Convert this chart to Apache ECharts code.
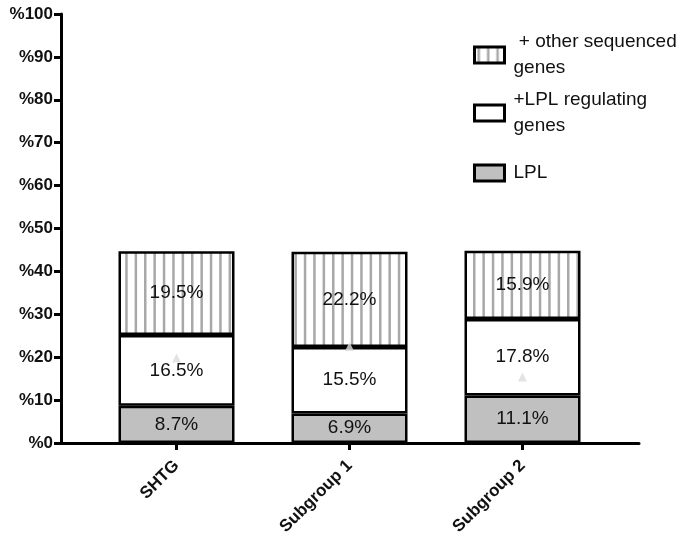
<!DOCTYPE html>
<html>
<head>
<meta charset="utf-8">
<script src="https://cdn.jsdelivr.net/npm/echarts@6/dist/echarts.min.js"></script>
<style>
  html, body { margin: 0; padding: 0; background: #fff; }
  #chart { width: 689px; height: 544px; }
</style>
</head>
<body>
<div id="chart"></div>
<script>
const categories = ['SHTG', 'Subgroup 1', 'Subgroup 2'];
const lpl = [8.7, 6.9, 11.1];
const regulating = [16.5, 15.5, 17.8];
const otherGenes = [19.5, 22.2, 15.9];
// faint triangle markers seen inside the white segments
const markers = [19.8, 22.5, 15.4];
const yTicks = [0, 10, 20, 30, 40, 50, 60, 70, 80, 90, 100];

const names = {
    other: '+ other sequenced genes',
    reg: '+LPL regulating genes',
    lpl: 'LPL',
};

// vertical stripes for the top segment
function stripes() {
    const c = document.createElement('canvas');
    c.width = 47;
    c.height = 10;
    const ctx = c.getContext('2d');
    ctx.fillStyle = '#fff';
    ctx.fillRect(0, 0, c.width, c.height);
    ctx.fillStyle = '#a8a8a8';
    for (let i = 0; i < 5; i++) {
        ctx.fillRect(i * 9.4 + 3, 0, 2.5, c.height);
    }
    return { image: c, repeat: 'repeat' };
}
const stripeFill = stripes();

const chart = echarts.init(document.getElementById('chart'));

const barLabel = {
    show: true,
    position: 'inside',
    formatter: '{c}%',
    fontFamily: 'Liberation Sans',
    fontSize: 19,
    color: '#111',
};
const border = { borderColor: '#000', borderWidth: 2.5 };

function legendFor(name, top, twoLines) {
    return {
        data: [name],
        left: 473,
        top: top,
        padding: 0,
        icon: 'rect',
        itemWidth: 30,
        itemHeight: 16,
        itemGap: 0,
        selectedMode: false,
        itemStyle: { borderColor: '#000', borderWidth: 3 },
        formatter: (n) => {
            if (n === names.other) return ' + other sequenced\ngenes';
            if (n === names.reg) return '+LPL regulating\ngenes';
            return n;
        },
        textStyle: {
            fontFamily: 'Liberation Sans',
            fontSize: 19,
            lineHeight: 26,
            color: '#111',
            padding: twoLines ? [26, 0, 0, 4] : [0, 0, 0, 4],
        },
    };
}

const option = {
    animation: false,
    backgroundColor: '#fff',
    grid: [
        { left: 61, right: 50, top: 14, bottom: 101 },
        { left: 90, right: 80, top: 14, bottom: 101 },
    ],
    legend: [
        legendFor(names.other, 16, true),
        legendFor(names.reg, 74, true),
        legendFor(names.lpl, 160, false),
    ],
    xAxis: [
        {
            type: 'value',
            gridIndex: 0,
            min: 0,
            max: 1,
            axisLine: { show: true, lineStyle: { color: '#000', width: 3 } },
            axisTick: { show: false },
            axisLabel: { show: false },
            splitLine: { show: false },
        },
        {
            type: 'category',
            gridIndex: 1,
            data: categories,
            axisLine: { show: false },
            axisTick: { show: true, alignWithLabel: true, length: 7, lineStyle: { color: '#000', width: 3 } },
            axisLabel: {
                rotate: 45,
                margin: 20,
                fontFamily: 'Liberation Sans',
                fontWeight: 'bold',
                fontSize: 17,
                color: '#111',
            },
        },
    ],
    yAxis: [
        {
            type: 'value',
            gridIndex: 0,
            min: 0,
            max: 100,
            interval: 10,
            axisLine: { show: true, lineStyle: { color: '#000', width: 3 } },
            axisTick: { show: true, length: 7, lineStyle: { color: '#000', width: 3 } },
            axisLabel: {
                formatter: (v) => (yTicks.includes(v) ? '%' + v : ''),
                margin: 8,
                fontFamily: 'Liberation Sans',
                fontWeight: 'bold',
                fontSize: 17,
                color: '#111',
            },
            splitLine: { show: false },
        },
        {
            type: 'value',
            gridIndex: 1,
            min: 0,
            max: 100,
            show: false,
        },
    ],
    series: [
        {
            name: names.lpl,
            type: 'bar',
            xAxisIndex: 1,
            yAxisIndex: 1,
            stack: 'total',
            barWidth: 116,
            data: lpl,
            itemStyle: Object.assign({ color: '#c0c0c0' }, border),
            label: barLabel,
        },
        {
            name: names.reg,
            type: 'bar',
            xAxisIndex: 1,
            yAxisIndex: 1,
            stack: 'total',
            barWidth: 116,
            data: regulating,
            itemStyle: Object.assign({ color: '#fff' }, border),
            label: barLabel,
        },
        {
            name: names.other,
            type: 'bar',
            xAxisIndex: 1,
            yAxisIndex: 1,
            stack: 'total',
            barWidth: 116,
            data: otherGenes,
            itemStyle: Object.assign({ color: stripeFill }, border),
            label: barLabel,
        },
        {
            name: 'marker',
            type: 'scatter',
            xAxisIndex: 1,
            yAxisIndex: 1,
            symbol: 'triangle',
            symbolSize: 9,
            data: markers,
            itemStyle: { color: '#dcdcdc' },
            z: 3,
        },
    ],
};

chart.setOption(option);
</script>
</body>
</html>
